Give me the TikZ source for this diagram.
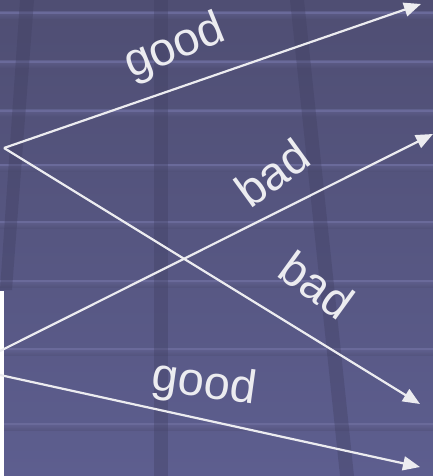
\documentclass[tikz,border=0pt]{standalone}
\usepackage{fontspec}
\setmainfont{Liberation Sans}
\usetikzlibrary{arrows.meta}
\definecolor{bgtop}{HTML}{4F4E73}
\definecolor{bgbot}{HTML}{5D5E8F}
\definecolor{stripe}{HTML}{3F3E60}
\definecolor{hline}{HTML}{6A6A9A}
\definecolor{ink}{HTML}{ECECF0}
\tikzset{
  flow/.style={draw=ink, line width=2.2pt, -{Triangle[length=17pt,width=14pt]}},
  lbl/.style={text=ink, font=\fontsize{47}{47}\selectfont, inner sep=0pt},
  brick/.style={fill=hline},
  post/.style={fill=stripe, fill opacity=0.35}
}
\begin{document}
\begin{tikzpicture}[x=1pt,y=-1pt]
\useasboundingbox (0,0) rectangle (433,476);
\shade[top color=bgtop, bottom color=bgbot] (0,0) rectangle (433,476);
% horizontal brick lines
\foreach \yy in {12,61,110,164,221,280,348,423}{
  \shade[top color=hline, bottom color=bgtop!80!bgbot, opacity=0.5] (0,\yy) rectangle (433,\yy+7);
  \fill[brick] (0,\yy) rectangle (433,\yy+2);
}
% vertical posts
\fill[post] (20,0) -- (34,0) -- (12,290) -- (0,290) -- cycle;
\fill[post] (154,0) -- (168,0) -- (168,476) -- (154,476) -- cycle;
\fill[post] (290,0) -- (304,0) -- (354,476) -- (340,476) -- cycle;
% white strip at lower left
\fill[white] (0,291) rectangle (4,476);
% connectors
\coordinate (s1) at (4,148);
\coordinate (s2) at (0,351);
\coordinate (s3) at (0,375);
\coordinate (t1) at (421,4);
\coordinate (t2) at (433,134);
\coordinate (t3) at (420,404);
\coordinate (t4) at (420,467);
\draw[flow] (s1) -- (t1);
\draw[flow] (s1) -- (t3);
\draw[flow] (s2) -- (t2);
\draw[flow] (s3) -- (t4);
% labels
\node[lbl, rotate=22] (g1) at (175,48) {good};
\node[lbl, rotate=36] (b1) at (272,173) {bad};
\node[lbl, rotate=-36] (b2) at (317,285) {bad};
\node[lbl, rotate=-8] (g2) at (204,385) {good};
\end{tikzpicture}
\end{document}
